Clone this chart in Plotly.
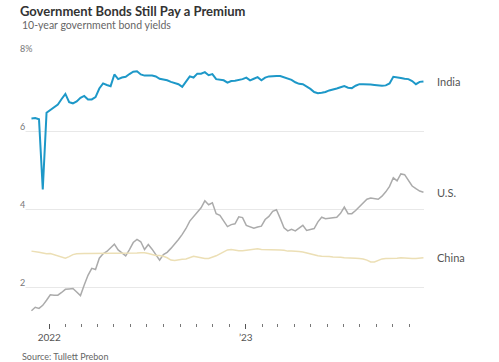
import pandas as pd
import plotly.graph_objects as go

# ---------------- data (weekly) ----------------
dates = pd.date_range("2021-11-29", periods=105, freq="7D")

india = [6.32, 6.33, 6.30, 4.50, 6.47, 6.54, 6.62, 6.68, 6.82, 6.95,
         6.74, 6.71, 6.76, 6.85, 6.90, 6.81, 6.81, 6.87, 7.09, 7.22,
         7.18, 7.15, 7.45, 7.33, 7.37, 7.39, 7.46, 7.52, 7.53, 7.45,
         7.42, 7.42, 7.42, 7.40, 7.34, 7.32, 7.30, 7.26, 7.22, 7.20,
         7.13, 7.25, 7.40, 7.37, 7.47, 7.47, 7.51, 7.43, 7.46, 7.33,
         7.32, 7.30, 7.24, 7.28, 7.29, 7.31, 7.33, 7.37, 7.30, 7.34,
         7.38, 7.30, 7.37, 7.40, 7.41, 7.41, 7.41, 7.38, 7.34, 7.31,
         7.25, 7.21, 7.20, 7.15, 7.08, 7.00, 6.97, 6.98, 7.00, 7.04,
         7.06, 7.09, 7.12, 7.15, 7.11, 7.10, 7.16, 7.20, 7.20, 7.20,
         7.19, 7.18, 7.17, 7.16, 7.17, 7.22, 7.39, 7.38, 7.36, 7.34,
         7.33, 7.28, 7.20, 7.26, 7.27]

us = [1.39, 1.48, 1.45, 1.53, 1.66, 1.80, 1.79, 1.79, 1.86, 1.94,
      1.95, 1.96, 1.87, 1.78, 2.05, 2.30, 2.48, 2.45, 2.74, 2.85,
      2.91, 3.00, 3.10, 2.95, 2.87, 2.80, 2.96, 3.14, 3.22, 3.16,
      2.96, 3.09, 2.97, 2.84, 2.69, 2.83, 2.89, 2.99, 3.10, 3.22,
      3.35, 3.50, 3.69, 3.80, 3.90, 4.03, 4.21, 4.11, 4.16, 3.88,
      3.84, 3.68, 3.55, 3.60, 3.62, 3.80, 3.78, 3.58, 3.54, 3.51,
      3.54, 3.56, 3.73, 3.81, 3.94, 3.98, 3.76, 3.52, 3.44, 3.48,
      3.44, 3.52, 3.58, 3.45, 3.47, 3.50, 3.67, 3.79, 3.75, 3.76,
      3.78, 3.79, 3.89, 4.05, 3.88, 3.88, 3.96, 4.05, 4.15, 4.25,
      4.28, 4.26, 4.25, 4.33, 4.44, 4.58, 4.80, 4.72, 4.90, 4.88,
      4.72, 4.59, 4.52, 4.46, 4.43]

china = [2.92, 2.91, 2.89, 2.87, 2.85, 2.86, 2.83, 2.78, 2.75, 2.74,
         2.78, 2.83, 2.85, 2.86, 2.86, 2.86, 2.86, 2.86, 2.86, 2.86,
         2.86, 2.87, 2.86, 2.86, 2.86, 2.86, 2.87, 2.87, 2.87, 2.88,
         2.88, 2.86, 2.83, 2.81, 2.81, 2.79, 2.75, 2.69, 2.68, 2.70,
         2.71, 2.72, 2.75, 2.79, 2.77, 2.74, 2.73, 2.73, 2.76, 2.80,
         2.85, 2.90, 2.95, 2.96, 2.94, 2.93, 2.93, 2.94, 2.96, 2.97,
         2.98, 2.96, 2.96, 2.96, 2.96, 2.96, 2.95, 2.94, 2.92, 2.92,
         2.92, 2.91, 2.90, 2.87, 2.84, 2.81, 2.80, 2.79, 2.79, 2.78,
         2.77, 2.77, 2.76, 2.75, 2.75, 2.74, 2.74, 2.73, 2.72, 2.69,
         2.64, 2.64, 2.69, 2.72, 2.73, 2.73, 2.74, 2.74, 2.75, 2.74,
         2.73, 2.73, 2.73, 2.74, 2.75]

series_names = ["India", "U.S.", "China"]
y_tick_vals = [2, 4, 6, 8]
y_tick_text = ["2", "4", "6", "8%"]
x_major_vals = ["2022-01-01", "2023-01-01"]
x_major_text = ["2022", "\u201923"]
x_minor_vals = [d.strftime("%Y-%m-%d") for d in pd.date_range("2022-02-01", "2023-11-01", freq="MS") if d.month != 1]

title = "Government Bonds Still Pay a Premium"
subtitle = "10-year government bond yields"
source = "Source: Tullett Prebon"

# ---------------- styling ----------------
W, H = 499, 362
L, R, T, B = 25, 75, 53, 39
PW, PH = W - L - R, H - T - B
colors = {"India": "#1d98c8", "U.S.": "#ababab", "China": "#ecdfb5"}
widths = {"India": 2.0, "U.S.": 1.5, "China": 1.5}
FONT = "Lato"

def px_x(px):
    return (px - L) / PW

def px_y(py):
    return (H - B - py) / PH

fig = go.Figure()
for name, vals in zip(series_names, [india, us, china]):
    fig.add_trace(go.Scatter(x=dates, y=vals, mode="lines", name=name,
                             line=dict(color=colors[name], width=widths[name]),
                             hoverinfo="skip"))

# second x axis only for the small monthly ticks
fig.add_trace(go.Scatter(x=[dates[0]], y=[india[0]], xaxis="x2", mode="markers",
                         marker=dict(opacity=0), showlegend=False, hoverinfo="skip"))

xr = ["2021-11-17", "2023-11-28"]
fig.update_layout(
    width=W, height=H,
    margin=dict(l=L, r=R, t=T, b=B, pad=0),
    paper_bgcolor="white", plot_bgcolor="white",
    showlegend=False,
    font=dict(family=FONT, color="#555555"),
    xaxis=dict(type="date", range=xr, showgrid=False, zeroline=False, showline=False,
               tickvals=x_major_vals, ticktext=x_major_text, ticks="outside",
               ticklen=5, tickwidth=1, tickcolor="#555555",
               tickfont=dict(size=10, color="#555555", family=FONT)),
    xaxis2=dict(type="date", range=xr, overlaying="x", side="bottom", showgrid=False,
                zeroline=False, showline=False, tickvals=x_minor_vals,
                showticklabels=False, ticks="outside", ticklen=3, tickwidth=1,
                tickcolor="#777777"),
    yaxis=dict(range=[8 - PH / 39.0, 8], tickvals=y_tick_vals, showticklabels=False,
               showgrid=True, gridcolor="#e8e8e8", gridwidth=1, zeroline=False,
               showline=False, ticks=""),
)

fig.update_layout(title=dict(text="<b>" + title + "</b>", x=20 / W, xanchor="left",
                             y=1 - 11 / H, yanchor="middle", yref="container",
                             font=dict(size=13, color="#333333", family=FONT)))

ann = []
ann.append(dict(text=subtitle, x=px_x(20), y=px_y(25), xref="paper", yref="paper",
                xanchor="left", yanchor="middle", showarrow=False,
                font=dict(size=10.5, color="#666666", family=FONT)))
ann.append(dict(text=source, x=px_x(20), y=px_y(356.5), xref="paper", yref="paper",
                xanchor="left", yanchor="middle", showarrow=False,
                font=dict(size=9, color="#666666", family=FONT)))
for v, t in zip(y_tick_vals, y_tick_text):
    ann.append(dict(text=t, x=px_x(19), y=v, xref="paper", yref="y",
                    xanchor="left", yanchor="bottom", showarrow=False, yshift=-2,
                    bgcolor="white", borderpad=0,
                    font=dict(size=9, color="#777777", family=FONT)))
for name, vals in zip(series_names, [india, us, china]):
    ann.append(dict(text=name, x=dates[-1], y=vals[-1], xref="x", yref="y",
                    xanchor="left", yanchor="middle", showarrow=False, xshift=12,
                    font=dict(size=11, color="#555555", family=FONT)))
fig.update_layout(annotations=ann)

fig.write_html("out.html", config={"displayModeBar": False},
               post_script="document.body.style.margin='0';")
